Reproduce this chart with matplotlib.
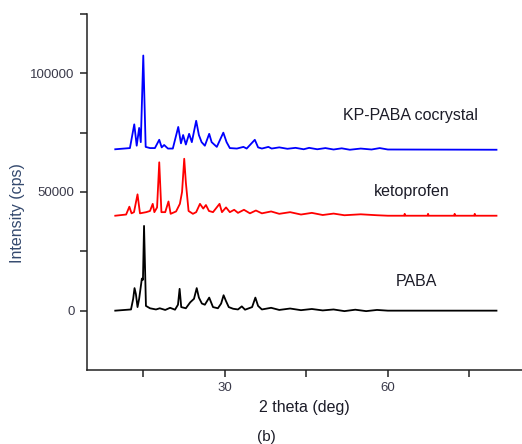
import matplotlib
matplotlib.use("Agg")
import matplotlib.pyplot as plt

plt.rcParams['font.family'] = ['Liberation Sans', 'DejaVu Sans']

# values, 2 theta in deg, intensity in cps
cocrystal_2theta = [9.8, 12.5, 13.3, 13.75, 14.2, 14.5, 14.96, 15.4, 16.2, 17.1, 17.9, 18.35,
                    18.8, 19.5, 20.4, 21.4, 21.9, 22.3, 22.8, 23.4, 23.9, 24.7, 25.2, 25.7,
                    26.3, 27.1, 27.55, 28.5, 29.7, 30.3, 30.9, 32.2, 33.4, 34.0, 35.5, 36.1,
                    36.8, 38.0, 38.6, 40.0, 41.5, 43.0, 44.5, 45.5, 47.0, 48.5, 50.0, 51.5,
                    53.0, 55.0, 57.0, 58.5, 60.0, 80.0]
cocrystal_counts = [68000, 68500, 78500, 69500, 77000, 71000, 107500, 69000, 68500, 68500, 72000, 68800,
                    69800, 68300, 68300, 77400, 70500, 74000, 70000, 74500, 71000, 80000, 74000, 71000,
                    69500, 74500, 71000, 69000, 75000, 71000, 68500, 68300, 69000, 68300, 72000, 68800,
                    68300, 69000, 68300, 68800, 68200, 68600, 68000, 68600, 68000, 68500, 67900, 68400,
                    67800, 68300, 67900, 68500, 67900, 67800]

keto_2theta = [9.8, 11.8, 12.4, 12.8, 13.25, 13.9, 14.35, 15.5, 16.2, 16.7, 17.0, 17.5,
               17.9, 18.3, 19.0, 19.6, 20.0, 21.0, 21.7, 22.1, 22.5, 22.8, 23.3, 24.1,
               24.7, 25.4, 26.0, 26.5, 27.05, 27.8, 29.0, 29.45, 30.2, 30.9, 31.7, 32.4,
               33.5, 34.6, 35.7, 36.8, 38.5, 40.0, 42.0, 44.0, 46.0, 48.0, 50.0, 52.0,
               55.0, 58.0, 60.0, 63.0, 63.1, 63.2, 67.3, 67.4, 67.5, 72.2, 72.3, 72.4,
               75.9, 76.0, 76.1, 80.0]
keto_counts = [40000, 40500, 43800, 41000, 41500, 49000, 41000, 41500, 42000, 45000, 41500, 43500,
               62500, 41500, 41500, 46000, 40800, 41800, 45000, 50000, 64000, 54000, 42000, 40800,
               41500, 45000, 43000, 44500, 42000, 41500, 45000, 41500, 43500, 41500, 42500, 41200,
               42500, 41000, 42200, 41000, 41800, 40800, 41500, 40500, 41200, 40300, 40900, 40200,
               40600, 40200, 40000, 40000, 40800, 40000, 40000, 40800, 40000, 40000, 40800, 40000,
               40000, 40800, 40000, 40000]

paba_2theta = [9.8, 12.7, 13.1, 13.35, 13.6, 13.9, 14.2, 14.7, 14.9, 15.1, 15.45, 16.2,
               17.3, 18.0, 19.0, 19.9, 20.8, 21.35, 21.65, 21.95, 22.8, 23.6, 24.3, 24.8,
               25.2, 25.75, 26.3, 27.1, 27.8, 28.7, 29.3, 29.75, 30.2, 30.7, 31.5, 32.4,
               33.1, 33.7, 35.0, 35.6, 36.1, 36.8, 38.5, 40.0, 42.0, 44.0, 46.0, 48.0,
               50.0, 52.0, 54.0, 56.0, 58.0, 60.0, 80.0]
paba_counts = [0, 500, 5000, 9500, 7000, 1500, 5000, 13500, 13000, 35700, 2000, 1000,
               500, 1000, 300, 1200, 400, 2500, 9200, 1500, 1000, 3500, 5000, 9500,
               5500, 3000, 2500, 5500, 1500, 1000, 3000, 6500, 4000, 1500, 800, 500,
               1800, 400, 1500, 5500, 2000, 500, 1200, 300, 900, 200, 700, 100,
               500, -200, 400, -200, 300, 0, 0]

x_ticks = [15, 30, 45, 60, 75]
x_tick_labels = ['', '30', '', '60', '']
y_ticks = [0, 25000, 50000, 75000, 100000, 125000]
y_tick_labels = ['0', '', '50000', '', '100000', '']

fig = plt.figure(figsize=(5.22, 4.44), dpi=100)
ax = fig.add_axes([0.1667, 0.1667, 0.8333, 0.8018])

ax.plot(paba_2theta, paba_counts, color='black', lw=1.3)
ax.plot(keto_2theta, keto_counts, color='#ff0000', lw=1.3)
ax.plot(cocrystal_2theta, cocrystal_counts, color='#0000ff', lw=1.3)

ax.text(64.2, 82300, 'KP-PABA cocrystal', ha='center', va='center', fontsize=11.5, color='#1c1c28')
ax.text(64.4, 50100, 'ketoprofen', ha='center', va='center', fontsize=11.5, color='#1c1c28')
ax.text(65.3, 12300, 'PABA', ha='center', va='center', fontsize=11.5, color='#1c1c28')

ax.set_xlim(4.6, 84.7)
ax.set_ylim(-25000, 125000)
ax.set_xticks(x_ticks)
ax.set_xticklabels(x_tick_labels)
ax.set_yticks(y_ticks)
ax.set_yticklabels(y_tick_labels)
ax.tick_params(direction='out', length=5, width=1.1, labelsize=9.5, pad=4,
               labelcolor='#3a3a4a', color='#222222')

for side in ['top', 'right']:
    ax.spines[side].set_visible(False)
for side in ['left', 'bottom']:
    ax.spines[side].set_linewidth(1.1)
    ax.spines[side].set_color('#222222')

ax.set_xlabel('2 theta (deg)', fontsize=11.5, color='#1c1c28', labelpad=4)
ax.set_ylabel('Intensity (cps)', fontsize=11.5, color='#34496e')
ax.yaxis.set_label_coords(-0.142, 0.44)
fig.text(0.511, 0.016, '(b)', ha='center', va='center', fontsize=11, color='#1c1c28')

fig.savefig('out.png', dpi=100)
